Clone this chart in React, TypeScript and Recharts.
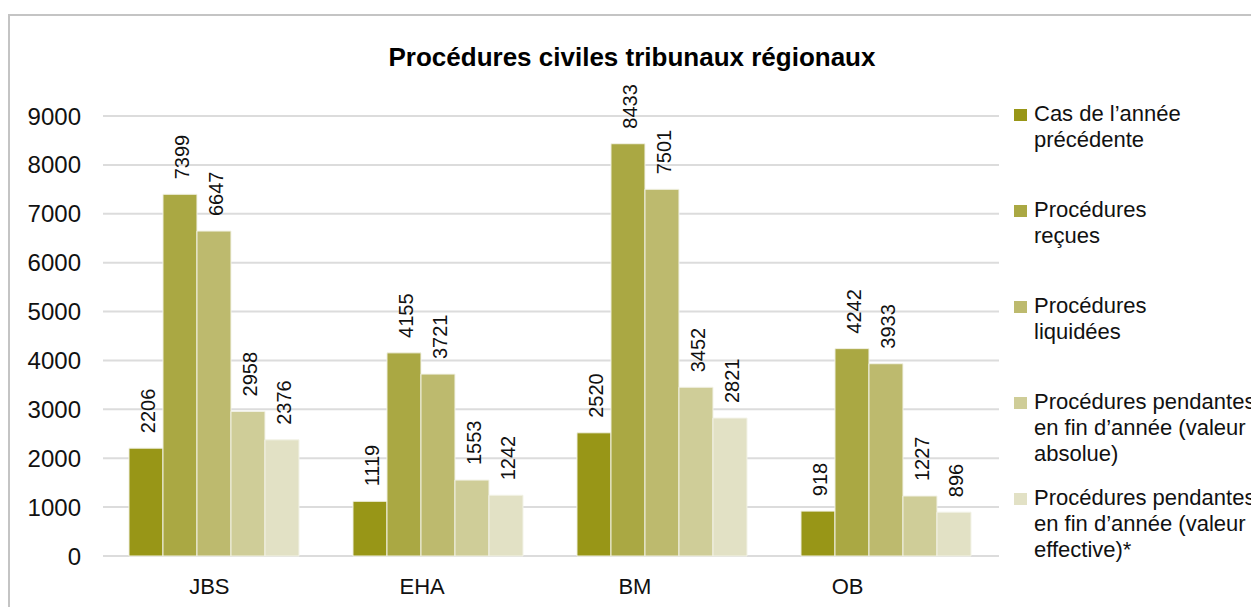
import React from 'react';
import {
  BarChart,
  Bar,
  XAxis,
  YAxis,
  CartesianGrid,
  Legend,
  LabelList
} from 'recharts';

const categories = ['JBS', 'EHA', 'BM', 'OB'];

const casPrecedents = [2206, 1119, 2520, 918];
const recues = [7399, 4155, 8433, 4242];
const liquidees = [6647, 3721, 7501, 3933];
const pendantesAbsolue = [2958, 1553, 3452, 1227];
const pendantesEffective = [2376, 1242, 2821, 896];

const seriesNames = [
  'Cas de l’année\nprécédente',
  'Procédures\nreçues',
  'Procédures\nliquidées',
  'Procédures pendantes\nen fin d’année (valeur\nabsolue)',
  'Procédures pendantes\nen fin d’année (valeur\neffective)*'
];

const seriesColors = ['#989617', '#aaa843', '#bdba6e', '#cfcd98', '#e2e1c5'];

const yTicks = [0, 1000, 2000, 3000, 4000, 5000, 6000, 7000, 8000, 9000];

const data = categories.map((name, i) => ({
  name,
  s0: casPrecedents[i],
  s1: recues[i],
  s2: liquidees[i],
  s3: pendantesAbsolue[i],
  s4: pendantesEffective[i]
}));

const FONT = '"Liberation Sans", Arial, sans-serif';
const LEGEND_W = 250;

const ValueLabel = (props: any) => {
  const { x, y, width, value } = props;
  const cx = x + width / 2 + 9;
  const ty = y - 15;
  return (
    <text
      x={cx}
      y={ty}
      transform={`rotate(-90 ${cx} ${ty})`}
      textAnchor="start"
      fontSize={20}
      fontFamily={FONT}
      fill="#111"
    >
      {value}
    </text>
  );
};

const LegendContent = (props: any) => {
  const items = [...(props.payload || [])].sort(
    (a: any, b: any) => seriesNames.indexOf(a.value) - seriesNames.indexOf(b.value)
  );
  return (
    <div style={{ fontFamily: FONT, fontSize: 22, color: '#111', width: LEGEND_W }}>
      {items.map((entry: any) => (
        <div key={entry.value} style={{ display: 'flex', height: 96 }}>
          <div
            style={{
              width: 13,
              height: 12,
              marginTop: 8,
              marginLeft: 4,
              marginRight: 7,
              background: entry.color,
              flexShrink: 0
            }}
          />
          <div style={{ whiteSpace: 'pre', lineHeight: '26px' }}>{entry.value}</div>
        </div>
      ))}
    </div>
  );
};

const App: React.FC = () => {
  const keys = ['s0', 's1', 's2', 's3', 's4'];
  return (
    <div style={{ width: 1251, height: 599, overflow: 'hidden', position: 'relative' }}>
      <div
        style={{
          position: 'absolute',
          left: 0,
          top: 6,
          width: 1300,
          height: 700,
          border: '2px solid #c4c4c4',
          background: '#fff'
        }}
      >
        <div
          style={{
            position: 'absolute',
            left: 0,
            top: 0,
            width: 1250,
            textAlign: 'center',
            fontFamily: FONT,
            fontWeight: 'bold',
            fontSize: 26,
            lineHeight: '30px',
            marginTop: 26,
            color: '#000'
          }}
        >
          <span style={{ position: 'relative', left: -3 }}>Procédures civiles tribunaux régionaux</span>
        </div>
        <BarChart
          width={1250}
          height={600}
          data={data}
          margin={{ top: 100, right: 261 - LEGEND_W, left: 0, bottom: 0 }}
          barCategoryGap="11.6%"
          barGap={0}
        >
          <CartesianGrid horizontal vertical={false} stroke="#dcdcdc" strokeWidth={2} />
          <XAxis xAxisId="bars" dataKey="name" hide height={0} />
          <XAxis
            xAxisId="labels"
            dataKey="name"
            height={60}
            axisLine={false}
            tickLine={false}
            tickSize={0}
            tickMargin={22}
            padding={{ left: 0, right: 45 }}
            tick={{ fill: '#111', fontSize: 22, fontFamily: FONT }}
          />
          <YAxis
            width={93}
            domain={[0, 9000]}
            ticks={yTicks}
            axisLine={false}
            tickLine={false}
            tickSize={0}
            tickMargin={22}
            tick={{ fill: '#111', fontSize: 24, fontFamily: FONT }}
          />
          <Legend
            layout="vertical"
            align="right"
            verticalAlign="top"
            content={<LegendContent />}
            wrapperStyle={{ left: 1000, top: 85, width: LEGEND_W }}
          />
          {keys.map((k, i) => (
            <Bar
              key={k}
              xAxisId="bars"
              dataKey={k}
              name={seriesNames[i]}
              fill={seriesColors[i]}
              stroke="#f2f2e6"
              strokeWidth={1}
              isAnimationActive={false}
            >
              <LabelList dataKey={k} content={<ValueLabel />} />
            </Bar>
          ))}
        </BarChart>
      </div>
    </div>
  );
};

export default App;
